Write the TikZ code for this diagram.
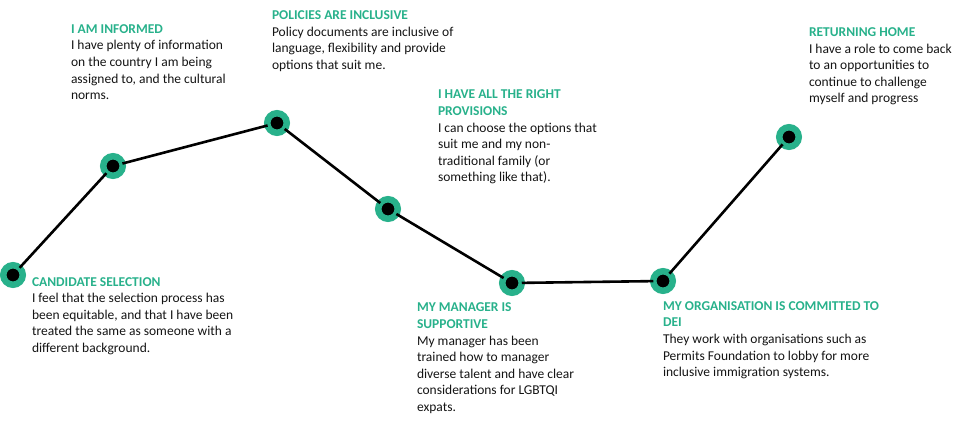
\documentclass[tikz,border=0pt]{standalone}
\usepackage{fontspec}
\setmainfont{Carlito}
\definecolor{teal1}{RGB}{40,177,139}
\definecolor{txt}{RGB}{20,20,20}
\tikzset{
  stop/.style={circle, fill=black, draw=teal1, line width=6.5pt, minimum size=19.5pt, inner sep=0pt, outer sep=0pt},
  link/.style={draw=black, line width=2.6pt},
  block/.style={anchor=north west, inner sep=0pt, outer sep=0pt, align=left, text=txt,
     font=\fontsize{13.5}{16.6}\selectfont},
}
\newcommand{\hd}[1]{\textcolor{teal1}{\textbf{#1}}}
\begin{document}
\begin{tikzpicture}[x=1pt,y=-1pt]
\useasboundingbox (0,0) rectangle (979,427);
\node[stop] (s1) at (13,275) {};
\node[stop] (s2) at (113,166) {};
\node[stop] (s3) at (277,123) {};
\node[stop] (s4) at (388,209) {};
\node[stop] (s5) at (512,283) {};
\node[stop] (s6) at (663,281) {};
\node[stop] (s7) at (789,137) {};
\draw[link] (s1) -- (s2);
\draw[link] (s2) -- (s3);
\draw[link] (s3) -- (s4);
\draw[link] (s4) -- (s5);
\draw[link] (s5) -- (s6);
\draw[link] (s6) -- (s7);

\node[block] (t1) at (32,274.5) {\strut\hd{CANDIDATE SELECTION}\\I feel that the selection process has\\been equitable, and that I have been\\treated the same as someone with a\\different background.};
\node[block] (t2) at (71,21.7) {\strut\hd{I AM INFORMED}\\I have plenty of information\\on the country I am being\\assigned to, and the cultural\\norms.};
\node[block] (t3) at (272,7.9) {\strut\hd{POLICIES ARE INCLUSIVE}\\Policy documents are inclusive of\\language, flexibility and provide\\options that suit me.};
\node[block] (t4) at (438,87.2) {\strut\hd{I HAVE ALL THE RIGHT}\\\hd{PROVISIONS}\\I can choose the options that\\suit me and my non-\\traditional family (or\\something like that).};
\node[block] (t5) at (417,300.2) {\strut\hd{MY MANAGER IS}\\\hd{SUPPORTIVE}\\My manager has been\\trained how to manager\\diverse talent and have clear\\considerations for LGBTQI\\expats.};
\node[block] (t6) at (663,298.7) {\strut\hd{MY ORGANISATION IS COMMITTED TO}\\\hd{DEI}\\They work with organisations such as\\Permits Foundation to lobby for more\\inclusive immigration systems.};
\node[block] (t7) at (809,24.9) {\strut\hd{RETURNING HOME}\\I have a role to come back\\to an opportunities to\\continue to challenge\\myself and progress};
\end{tikzpicture}
\end{document}
